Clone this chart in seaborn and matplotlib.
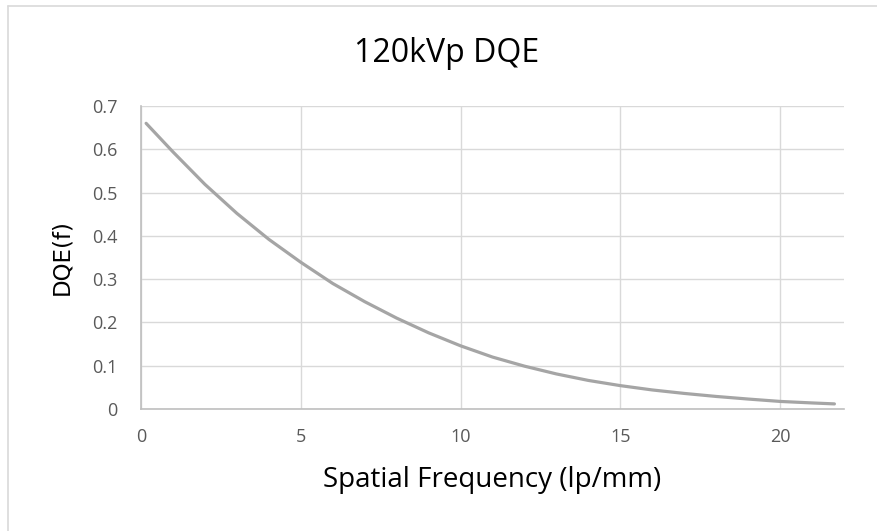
import matplotlib
matplotlib.use("Agg")
import matplotlib.pyplot as plt
from matplotlib.lines import Line2D
import pandas as pd
import seaborn as sns

# Spatial frequency (lp/mm) and measured DQE at 120 kVp
frequency = [0.16, 1, 2, 3, 4, 5, 6, 7, 8, 9, 10, 11, 12, 13, 14, 15,
             16, 17, 18, 19, 20, 21, 21.7]
dqe = [0.660, 0.594, 0.519, 0.452, 0.392, 0.339, 0.290, 0.248, 0.210,
       0.176, 0.146, 0.120, 0.099, 0.081, 0.066, 0.054, 0.044, 0.036,
       0.029, 0.023, 0.0175, 0.014, 0.0118]

x_ticks = [0, 5, 10, 15, 20]
y_ticks = [0, 0.1, 0.2, 0.3, 0.4, 0.5, 0.6, 0.7]
y_tick_labels = ["0", "0.1", "0.2", "0.3", "0.4", "0.5", "0.6", "0.7"]

df = pd.DataFrame({"freq": frequency, "dqe": dqe})

sns.set_theme(style="whitegrid")
plt.rcParams["font.family"] = ["Open Sans", "DejaVu Sans"]

W, H = 878, 531
fig = plt.figure(figsize=(W / 100, H / 100), dpi=100)
ax = fig.add_axes([141 / W, 1 - 409 / H, (844 - 141) / W, (409 - 106) / H])

sns.lineplot(data=df, x="freq", y="dqe", ax=ax, color="#a5a5a5",
             linewidth=2.3, solid_capstyle="round", solid_joinstyle="round")

ax.set_xlim(0, 22)
ax.set_ylim(0, 0.7)
ax.set_xticks(x_ticks)
ax.set_xticklabels([str(t) for t in x_ticks])
ax.set_yticks(y_ticks)
ax.set_yticklabels(y_tick_labels)

ax.grid(True, color="#d9d9d9", linewidth=1.0)
ax.set_axisbelow(True)
for side in ["top", "right"]:
    ax.spines[side].set_visible(False)
for side in ["left", "bottom"]:
    ax.spines[side].set_visible(True)
    ax.spines[side].set_color("#bfbfbf")
    ax.spines[side].set_linewidth(1.2)

ax.tick_params(axis="both", length=0, labelsize=13, labelcolor="#595959")
ax.tick_params(axis="y", pad=17)
ax.tick_params(axis="x", pad=14)

ax.set_xlabel("Spatial Frequency (lp/mm)", fontsize=20, color="black")
ax.xaxis.set_label_coords((492 - 141) / 703, (409 - 466) / 303)
ax.set_ylabel("DQE(f)", fontsize=16.5, color="black", family="DejaVu Sans")
ax.yaxis.set_label_coords((73 - 141) / 703, 0.5)
fig.text(447 / W, 1 - 54 / H, "120kVp DQE", ha="center", va="center",
         fontsize=23, color="black")

# chart-area frame along the top and left edges
fig.add_artist(Line2D([8 / W, 1], [1 - 6 / H, 1 - 6 / H], color="#d9d9d9",
                      linewidth=1.2, transform=fig.transFigure))
fig.add_artist(Line2D([8 / W, 8 / W], [0, 1 - 6 / H], color="#d9d9d9",
                      linewidth=1.2, transform=fig.transFigure))

fig.savefig("out.png", dpi=100, facecolor="white")
